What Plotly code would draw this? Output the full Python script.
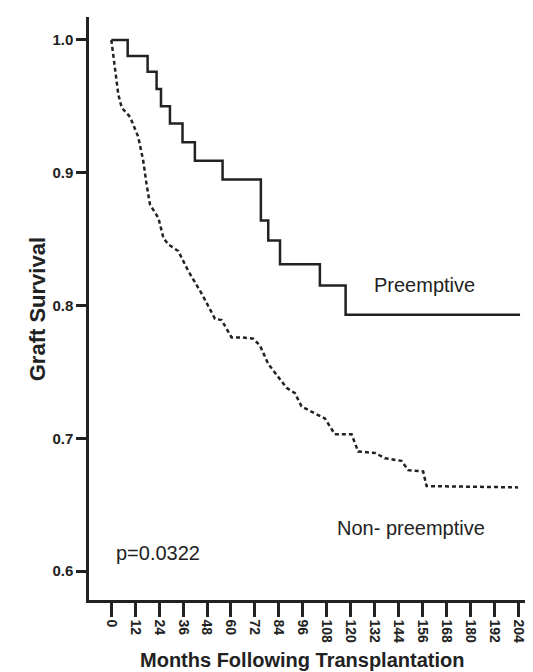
import plotly.graph_objects as go

# Preemptive (solid step curve)
pre_months = [0, 8.2, 18.2, 22.7, 24.9, 29.4, 35.7, 41.9, 55.8, 75.0, 78.7, 84.6, 104.6, 117.5, 205]
pre_surv = [1.0, 0.988, 0.976, 0.963, 0.950, 0.937, 0.923, 0.909, 0.895, 0.864, 0.849, 0.831, 0.815, 0.793, 0.793]

# Non-preemptive (dashed curve)
non_months = [0, 1.8, 3.5, 5.2, 9.4, 13.5, 16.0, 17.7, 19.4, 23.6, 26.1, 28.6, 33.6, 38.6, 45.3,
              52.0, 55.3, 60.3, 66.0, 71.2, 74.5, 78.7, 82.9, 87.9, 92.1, 95.4, 100.4, 107.1,
              112.1, 120.5, 123.8, 132.2, 137.2, 145.5, 148.9, 156.4, 158.1, 204]
non_surv = [1.0, 0.979, 0.959, 0.949, 0.942, 0.927, 0.909, 0.891, 0.876, 0.866, 0.851, 0.846, 0.841, 0.826, 0.809,
            0.790, 0.789, 0.776, 0.776, 0.775, 0.770, 0.756, 0.748, 0.738, 0.734, 0.724, 0.720, 0.715,
            0.703, 0.703, 0.690, 0.689, 0.685, 0.683, 0.676, 0.675, 0.664, 0.663]

x_ticks = list(range(0, 205, 12))
y_ticks = [0.6, 0.7, 0.8, 0.9, 1.0]
y_tick_text = ["0.6", "0.7", "0.8", "0.9", "1.0"]

FONT = "Liberation Sans, Arial, sans-serif"
INK = "#222222"

fig = go.Figure()
fig.add_trace(go.Scatter(x=non_months, y=non_surv, mode="lines",
                         line=dict(color=INK, width=2.5, dash="4px,3px"),
                         showlegend=False, hoverinfo="skip"))
fig.add_trace(go.Scatter(x=pre_months, y=pre_surv, mode="lines", line_shape="hv",
                         line=dict(color=INK, width=2.5),
                         showlegend=False, hoverinfo="skip"))

# In-plot labels
fig.add_annotation(x=157.3, y=0.8157, text="Preemptive", showarrow=False,
                   font=dict(family=FONT, size=20, color=INK))
fig.add_annotation(x=150.3, y=0.6326, text="Non- preemptive", showarrow=False,
                   font=dict(family=FONT, size=20, color=INK))
fig.add_annotation(x=23.5, y=0.6133, text="p=0.0322", showarrow=False,
                   font=dict(family=FONT, size=20, color=INK))

# Axis titles
fig.add_annotation(x=95.6, xref="x", y=0, yref="paper", yanchor="middle", yshift=-60,
                   text="Months Following Transplantation", showarrow=False,
                   font=dict(family=FONT, size=20, color=INK, weight="bold"))
fig.add_annotation(x=0, xref="paper", xanchor="center", xshift=-51.5, y=0.7968, yref="y",
                   text="Graft Survival", textangle=-90, showarrow=False,
                   font=dict(family=FONT, size=22, color=INK, weight="bold"))

fig.update_layout(
    width=533, height=672,
    margin=dict(l=81, r=2, t=9, b=80),
    paper_bgcolor="white", plot_bgcolor="white",
    font=dict(family=FONT, color=INK),
    xaxis=dict(range=[-11.2, 214.5], tickmode="array", tickvals=x_ticks,
               ticktext=[str(v) for v in x_ticks], tickangle=90,
               ticks="outside", ticklen=14, tickwidth=2.5, tickcolor=INK,
               showline=True, linewidth=2.5, linecolor=INK,
               showgrid=False, zeroline=False,
               tickfont=dict(family=FONT, size=14, color=INK, weight="bold")),
    yaxis=dict(range=[0.5782, 1.0173], tickmode="array", tickvals=y_ticks, ticktext=y_tick_text,
               ticks="outside", ticklen=10, tickwidth=2.5, tickcolor=INK,
               showline=True, linewidth=2.5, linecolor=INK,
               showgrid=False, zeroline=False,
               tickfont=dict(family=FONT, size=15, color=INK, weight="bold")),
)

fig.add_shape(type="line", xref="paper", yref="paper", x0=1, x1=1, y0=0, y1=1.005,
              line=dict(color="#c8c8c8", width=1))

fig.write_html("out.html")
